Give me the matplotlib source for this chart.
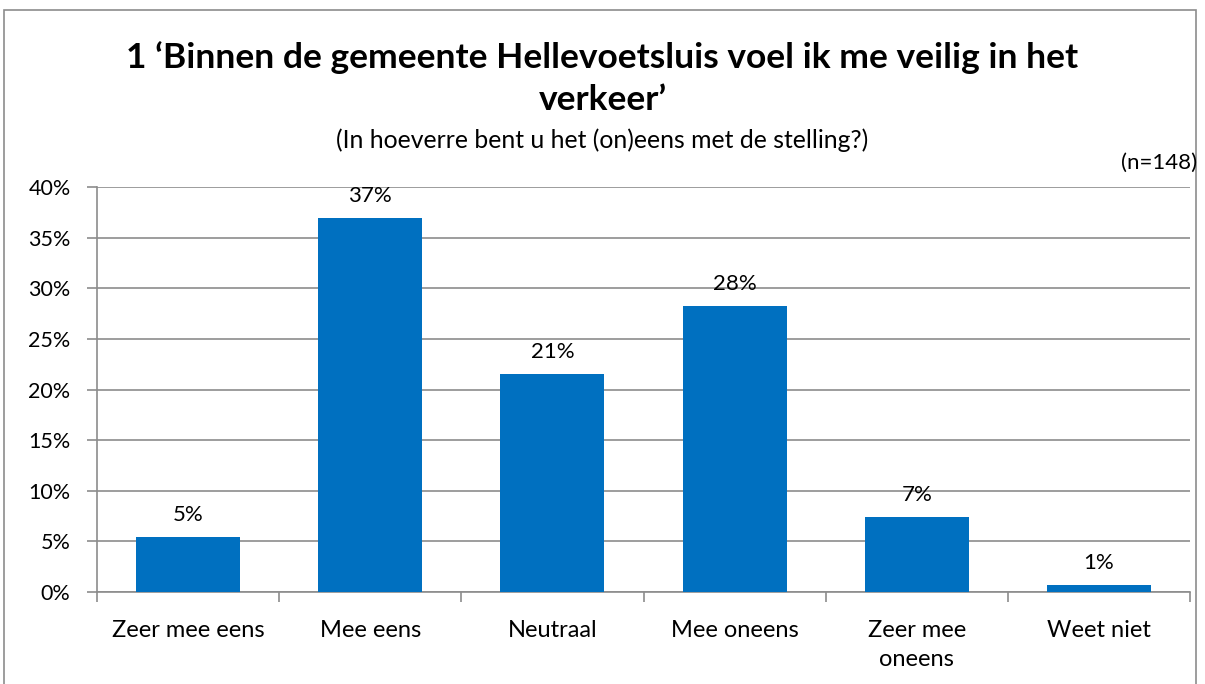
import numpy as np
import matplotlib.pyplot as plt
from matplotlib.patches import Rectangle
from matplotlib.ticker import FixedLocator, NullFormatter

categories = ['Zeer mee eens', 'Mee eens', 'Neutraal', 'Mee oneens', 'Zeer mee\noneens', 'Weet niet']
values = [5.4, 36.9, 21.5, 28.2, 7.4, 0.7]
labels = ['5%', '37%', '21%', '28%', '7%', '1%']
yticks = [0, 5, 10, 15, 20, 25, 30, 35, 40]

plt.rcParams['font.family'] = ['Lato', 'DejaVu Sans']

fig = plt.figure(figsize=(12.05, 6.84), dpi=100)
W, H = 1205, 684

# outer chart border
fig.patches.append(Rectangle((4 / W, -0.01), 1192 / W, 1 - 10 / H + 0.01,
                             transform=fig.transFigure, fill=False,
                             edgecolor='#8c8c8c', linewidth=1.2))

ax = fig.add_axes([97 / W, 1 - 592 / H, (1190 - 97) / W, (592 - 187) / H])

x = np.arange(len(categories))
ax.bar(x, values, width=0.571, color='#0070c0', zorder=3)
for xi, v, lab in zip(x, values, labels):
    ax.text(xi, v + 2.2, lab, ha='center', va='center', fontsize=16, color='black')

ax.set_xlim(-0.5, len(categories) - 0.5)
ax.set_ylim(0, 40)
ax.set_yticks(yticks)
ax.set_yticklabels([f'{t}%' for t in yticks], fontsize=15.5)
ax.yaxis.grid(True, color='#8c8c8c', linewidth=1.2, zorder=0)

ax.xaxis.set_major_locator(FixedLocator(x))
ax.set_xticklabels(categories, fontsize=17, linespacing=1.5, va='top')
ax.xaxis.set_minor_locator(FixedLocator(np.arange(-0.5, len(categories), 1)))
ax.xaxis.set_minor_formatter(NullFormatter())
ax.tick_params(axis='x', which='major', length=0, pad=20)
ax.tick_params(axis='x', which='minor', length=7, color='#8c8c8c', width=1.2)
ax.tick_params(axis='y', length=7, color='#8c8c8c', width=1.2, pad=12)

for side in ['top', 'right']:
    ax.spines[side].set_visible(False)
for side in ['left', 'bottom']:
    ax.spines[side].set_color('#8c8c8c')
    ax.spines[side].set_linewidth(1.2)

fig.text(0.5, 1 - 58 / H, '1 \u2018Binnen de gemeente Hellevoetsluis voel ik me veilig in het',
         ha='center', va='center', fontsize=25.5, fontweight='bold')
fig.text(0.5, 1 - 100 / H, 'verkeer\u2019', ha='center', va='center', fontsize=25.5, fontweight='bold')
fig.text(0.5, 1 - 140 / H, '(In hoeverre bent u het (on)eens met de stelling?)',
         ha='center', va='center', fontsize=17.8)
fig.text(1197 / W, 1 - 163 / H, '(n=148)', ha='right', va='center', fontsize=16)

fig.savefig('out.png', dpi=100)
